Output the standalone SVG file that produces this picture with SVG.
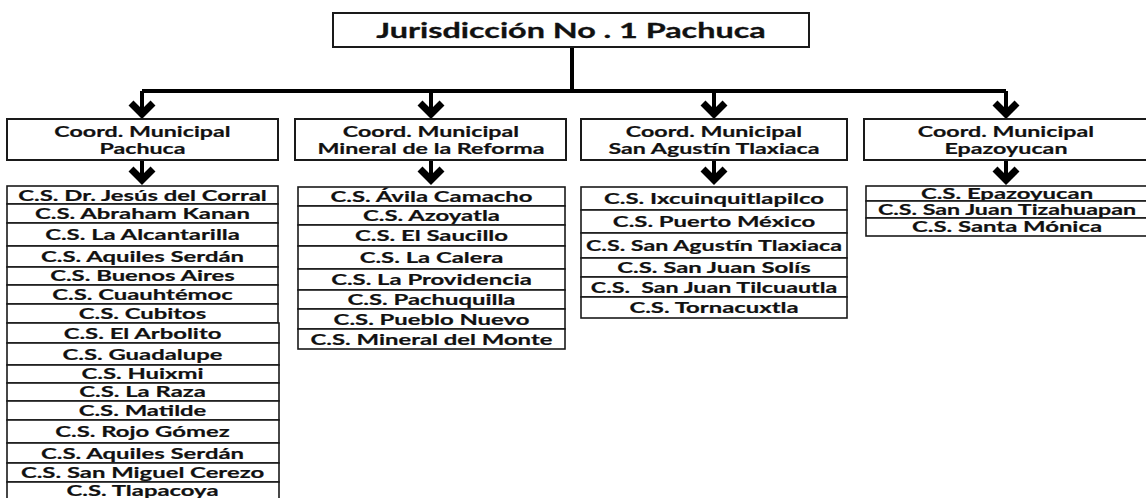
<svg xmlns="http://www.w3.org/2000/svg" xmlns:xlink="http://www.w3.org/1999/xlink" width="1146" height="498" viewBox="0 0 1146 498">
<style>
  .box{fill:#fff;stroke:#1a1a1a;stroke-width:1.6}
  .hdr{fill:#fff;stroke:#1a1a1a;stroke-width:2}
  .t{font-family:Lato,"Open Sans","Liberation Sans",sans-serif;font-weight:700;font-size:15.5px;fill:#111;stroke:#111;stroke-width:0.2;text-anchor:middle}
  .title{font-family:Lato,"Open Sans","Liberation Sans",sans-serif;font-weight:700;font-size:21px;fill:#111;stroke:#111;stroke-width:0.3;text-anchor:middle}
  .ln{stroke:#000;stroke-width:4;fill:none}
  .chev{stroke:#000;stroke-width:7;fill:none;stroke-linejoin:miter;stroke-miterlimit:10}
</style>
<defs>
  <path id="chev" class="chev" d="M-11,-16 L0,-5 L11,-16"/>
</defs>
<rect width="1146" height="498" fill="#fff"/>

<g id="connectors">
  <path class="ln" d="M572,47 V91 M142,91 H1006"/>
  <path class="ln" d="M142,91 V112 M431,91 V112 M714,91 V112 M1006,91 V112"/>
  <use xlink:href="#chev" href="#chev" x="142" y="119"/>
  <use xlink:href="#chev" href="#chev" x="431" y="119"/>
  <use xlink:href="#chev" href="#chev" x="714" y="119"/>
  <use xlink:href="#chev" href="#chev" x="1006" y="119"/>
  <path class="ln" d="M142,160 V178 M431,160 V178 M714,160 V178 M1006,160 V178"/>
  <use xlink:href="#chev" href="#chev" x="142" y="185"/>
  <use xlink:href="#chev" href="#chev" x="431" y="185"/>
  <use xlink:href="#chev" href="#chev" x="714" y="185"/>
  <use xlink:href="#chev" href="#chev" x="1006" y="185"/>
</g>

<g id="root">
  <rect class="hdr" x="333" y="13" width="476" height="34"/>
  <text class="title" transform="translate(571 37.5) scale(1.54 1)">Jurisdicción No . 1 Pachuca</text>
</g>

<g id="coord-pachuca">
  <rect class="hdr" x="7" y="119" width="271" height="41"/>
  <text class="t" transform="translate(142.5 136.5) scale(1.5 1)">Coord. Municipal</text>
  <text class="t" transform="translate(142.5 154) scale(1.5 1)">Pachuca</text>
</g>
<g id="coord-mineral">
  <rect class="hdr" x="295" y="119" width="271" height="41"/>
  <text class="t" transform="translate(431 136.5) scale(1.5 1)">Coord. Municipal</text>
  <text class="t" transform="translate(431 154) scale(1.5 1)">Mineral de la Reforma</text>
</g>
<g id="coord-sanagustin">
  <rect class="hdr" x="581" y="119" width="266" height="41"/>
  <text class="t" transform="translate(714 136.5) scale(1.5 1)">Coord. Municipal</text>
  <text class="t" transform="translate(714 154) scale(1.5 1)">San Agustín Tlaxiaca</text>
</g>
<g id="coord-epazoyucan">
  <rect class="hdr" x="864" y="119" width="286" height="41"/>
  <text class="t" transform="translate(1006 136.5) scale(1.5 1)">Coord. Municipal</text>
  <text class="t" transform="translate(1006 154) scale(1.5 1)">Epazoyucan</text>
</g>

<!-- Column 1 -->
<g id="p1"><rect class="box" x="7" y="186" width="271" height="18"/><text class="t" transform="translate(142.5 200.5) scale(1.54 1)">C.S. Dr. Jesús del Corral</text></g>
<g id="p2"><rect class="box" x="7" y="204" width="271" height="19"/><text class="t" transform="translate(142.5 219) scale(1.54 1)">C.S. Abraham Kanan</text></g>
<g id="p3"><rect class="box" x="7" y="223" width="271" height="23"/><text class="t" transform="translate(142.5 240) scale(1.54 1)">C.S. La Alcantarilla</text></g>
<g id="p4"><rect class="box" x="7" y="246" width="271" height="21"/><text class="t" transform="translate(142.5 262) scale(1.54 1)">C.S. Aquiles Serdán</text></g>
<g id="p5"><rect class="box" x="7" y="267" width="271" height="18"/><text class="t" transform="translate(142.5 281) scale(1.54 1)">C.S. Buenos Aires</text></g>
<g id="p6"><rect class="box" x="7" y="285" width="271" height="19"/><text class="t" transform="translate(142.5 300) scale(1.54 1)">C.S. Cuauhtémoc</text></g>
<g id="p7"><rect class="box" x="7" y="304" width="271" height="19"/><text class="t" transform="translate(142.5 319) scale(1.54 1)">C.S. Cubitos</text></g>
<g id="p8"><rect class="box" x="7" y="323" width="272" height="20"/><text class="t" transform="translate(142.5 338.5) scale(1.54 1)">C.S. El Arbolito</text></g>
<g id="p9"><rect class="box" x="7" y="343" width="272" height="22"/><text class="t" transform="translate(142.5 359.5) scale(1.54 1)">C.S. Guadalupe</text></g>
<g id="p10"><rect class="box" x="7" y="365" width="272" height="18"/><text class="t" transform="translate(142.5 379) scale(1.54 1)">C.S. Huixmi</text></g>
<g id="p11"><rect class="box" x="7" y="383" width="272" height="18"/><text class="t" transform="translate(142.5 397) scale(1.54 1)">C.S. La Raza</text></g>
<g id="p12"><rect class="box" x="7" y="401" width="272" height="19"/><text class="t" transform="translate(142.5 415.5) scale(1.54 1)">C.S. Matilde</text></g>
<g id="p13"><rect class="box" x="7" y="420" width="272" height="23"/><text class="t" transform="translate(142.5 437) scale(1.54 1)">C.S. Rojo Gómez</text></g>
<g id="p14"><rect class="box" x="7" y="443" width="272" height="20"/><text class="t" transform="translate(142.5 458.5) scale(1.54 1)">C.S. Aquiles Serdán</text></g>
<g id="p15"><rect class="box" x="7" y="463" width="272" height="19"/><text class="t" transform="translate(142.5 477.5) scale(1.54 1)">C.S. San Miguel Cerezo</text></g>
<g id="p16"><rect class="box" x="7" y="482" width="272" height="20"/><text class="t" transform="translate(142.5 496) scale(1.54 1)">C.S. Tlapacoya</text></g>

<!-- Column 2 -->
<g id="m1"><rect class="box" x="298" y="187" width="267" height="19"/><text class="t" transform="translate(431.5 202) scale(1.54 1)">C.S. Ávila Camacho</text></g>
<g id="m2"><rect class="box" x="298" y="206" width="267" height="19"/><text class="t" transform="translate(431.5 221) scale(1.54 1)">C.S. Azoyatla</text></g>
<g id="m3"><rect class="box" x="298" y="225" width="267" height="21"/><text class="t" transform="translate(431.5 241) scale(1.54 1)">C.S. El Saucillo</text></g>
<g id="m4"><rect class="box" x="298" y="246" width="267" height="23"/><text class="t" transform="translate(431.5 263) scale(1.54 1)">C.S. La Calera</text></g>
<g id="m5"><rect class="box" x="298" y="269" width="267" height="21"/><text class="t" transform="translate(431.5 285) scale(1.54 1)">C.S. La Providencia</text></g>
<g id="m6"><rect class="box" x="298" y="290" width="267" height="19"/><text class="t" transform="translate(431.5 305) scale(1.54 1)">C.S. Pachuquilla</text></g>
<g id="m7"><rect class="box" x="298" y="309" width="267" height="20"/><text class="t" transform="translate(431.5 324.5) scale(1.54 1)">C.S. Pueblo Nuevo</text></g>
<g id="m8"><rect class="box" x="298" y="329" width="267" height="20"/><text class="t" transform="translate(431.5 344.5) scale(1.54 1)">C.S. Mineral del Monte</text></g>

<!-- Column 3 -->
<g id="s1"><rect class="box" x="581" y="187" width="266" height="23"/><text class="t" transform="translate(714 204) scale(1.54 1)">C.S. Ixcuinquitlapilco</text></g>
<g id="s2"><rect class="box" x="581" y="210" width="266" height="23"/><text class="t" transform="translate(714 227) scale(1.54 1)">C.S. Puerto México</text></g>
<g id="s3"><rect class="box" x="581" y="233" width="266" height="25"/><text class="t" transform="translate(714 251) scale(1.5 1)">C.S. San Agustín Tlaxiaca</text></g>
<g id="s4"><rect class="box" x="581" y="258" width="266" height="19"/><text class="t" transform="translate(714 273) scale(1.54 1)">C.S. San Juan Solís</text></g>
<g id="s5"><rect class="box" x="581" y="277" width="266" height="20"/><text class="t" transform="translate(714 292.5) scale(1.5 1)">C.S.&#160; San Juan Tilcuautla</text></g>
<g id="s6"><rect class="box" x="581" y="297" width="266" height="21"/><text class="t" transform="translate(714 313) scale(1.54 1)">C.S. Tornacuxtla</text></g>

<!-- Column 4 -->
<g id="e1"><rect class="box" x="866" y="186" width="284" height="15"/><text class="t" transform="translate(1007 198.5) scale(1.54 1)">C.S. Epazoyucan</text></g>
<g id="e2"><rect class="box" x="866" y="201" width="284" height="17"/><text class="t" transform="translate(1007 214.5) scale(1.5 1)">C.S. San Juan Tizahuapan</text></g>
<g id="e3"><rect class="box" x="866" y="218" width="284" height="18"/><text class="t" transform="translate(1007 232) scale(1.54 1)">C.S. Santa Mónica</text></g>
</svg>
